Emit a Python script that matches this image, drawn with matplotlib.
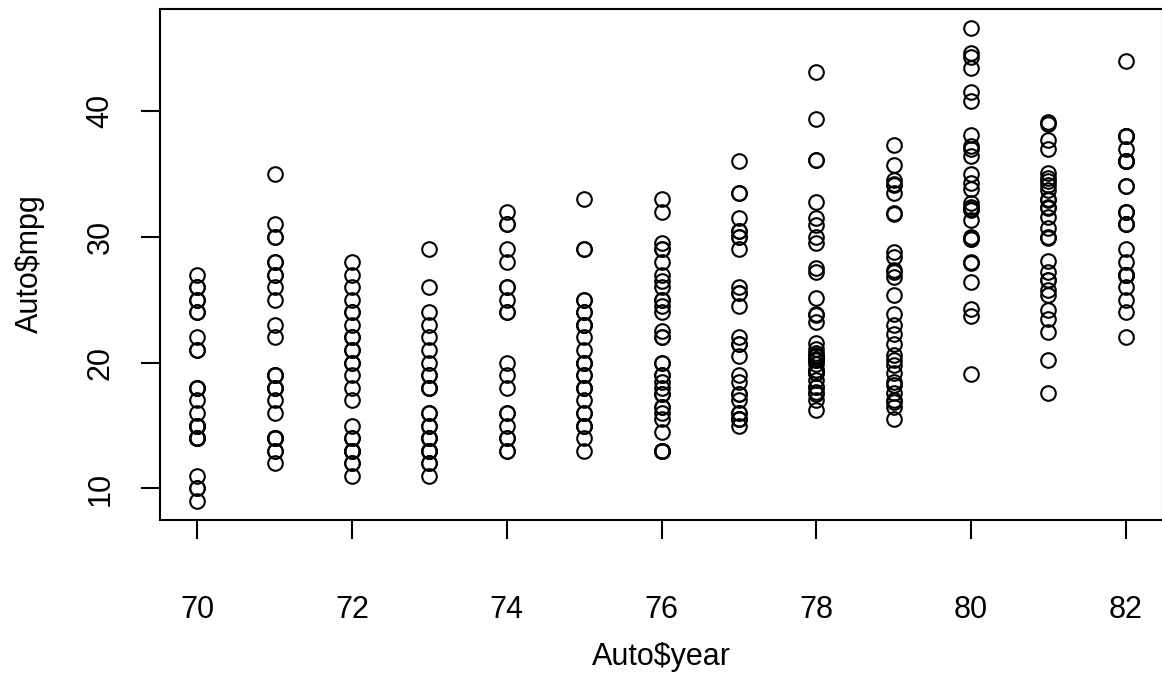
import numpy as np
import matplotlib
matplotlib.use("Agg")
import matplotlib.pyplot as plt

plt.rcParams['font.family'] = ['Liberation Sans', 'DejaVu Sans']

# mpg values for each model year
mpg_70 = [18, 15, 18, 16, 17, 15, 14, 14, 14, 15, 15, 14, 15, 14, 24, 22, 18, 21,
          27, 26, 25, 24, 25, 26, 21, 10, 10, 11, 9]
mpg_71 = [27, 28, 25, 19, 16, 17, 19, 18, 14, 14, 14, 14, 12, 13, 13, 18, 22, 19,
          18, 23, 28, 30, 30, 31, 35, 27, 26]
mpg_72 = [28, 27, 26, 25, 24, 23, 22, 21, 20, 19, 18, 17, 15, 14, 13, 12, 11,
          13, 14, 13, 12, 13, 22, 21, 24, 20]
mpg_73 = [29, 26, 24, 23, 22, 21, 20, 19, 18, 16, 15, 14, 13, 12, 11,
          13, 14, 13, 12, 18, 19, 15, 16, 13, 14, 18]
mpg_74 = [32, 31, 29, 28, 26, 25, 24, 20, 19, 18, 16, 15, 14, 13,
          31, 26, 24, 16, 14, 13]
mpg_75 = [33, 29, 25, 24, 23, 22, 21, 20, 19, 18, 17, 16, 15, 14, 13,
          29, 23, 25, 24, 18, 20, 15, 16, 19, 15, 23, 20, 18]
mpg_76 = [33, 32, 29.5, 29, 29, 28, 27, 26.5, 26, 25, 25, 24.5, 24, 22.5, 22, 22,
          20, 20, 19, 19, 18.5, 18, 17.5, 17.5, 16.5, 16.5, 16, 15.5, 14.5,
          13, 13, 13, 13, 13]
mpg_77 = [31.5, 30, 36, 25.5, 33.5, 17.5, 17, 15.5, 15, 17.5, 20.5, 19, 18.5, 16,
          15.5, 15.5, 16, 29, 24.5, 26, 25.5, 30.5, 33.5, 30, 30.5, 22, 21.5, 21.5]
mpg_78 = [43.1, 36.1, 32.8, 39.4, 36.1, 19.9, 19.4, 20.2, 19.2, 20.5, 20.2, 25.1,
          20.5, 19.4, 20.6, 20.8, 18.6, 18.1, 19.2, 17.7, 18.1, 17.5, 30.0, 27.5,
          27.2, 30.9, 21.1, 23.2, 23.8, 23.9, 20.3, 17.0, 21.6, 16.2, 31.5, 29.5]
mpg_79 = [21.5, 19.8, 22.3, 20.2, 20.6, 17.0, 17.6, 16.5, 18.2, 16.9, 15.5, 19.2,
          18.5, 31.9, 34.1, 35.7, 27.4, 25.4, 23.0, 27.2, 23.9, 34.2, 34.5, 31.8,
          37.3, 28.4, 28.8, 26.8, 33.5]
mpg_80 = [41.5, 38.1, 32.1, 37.2, 28.0, 26.4, 24.3, 19.1, 34.3, 29.8, 31.3, 37.0,
          32.2, 46.6, 27.9, 40.8, 44.3, 43.4, 36.4, 30.0, 44.6, 33.8, 29.8, 32.7,
          23.7, 35.0, 32.4]
mpg_81 = [27.2, 26.6, 25.8, 23.5, 30.0, 39.1, 39.0, 35.1, 32.3, 37.0, 37.7, 34.1,
          34.7, 34.4, 29.9, 33.0, 33.7, 32.4, 32.9, 31.6, 28.1, 30.7, 25.4, 24.2,
          22.4, 26.6, 20.2, 17.6]
mpg_82 = [27, 27, 34, 31, 29, 27, 24, 36, 37, 31, 38, 36, 36, 36, 34, 38, 32, 38,
          25, 38, 26, 22, 32, 36, 27, 27, 44, 32, 28, 31]

years = [70, 71, 72, 73, 74, 75, 76, 77, 78, 79, 80, 81, 82]
mpg_lists = [mpg_70, mpg_71, mpg_72, mpg_73, mpg_74, mpg_75, mpg_76, mpg_77,
             mpg_78, mpg_79, mpg_80, mpg_81, mpg_82]

year = np.concatenate([[yr] * len(v) for yr, v in zip(years, mpg_lists)])
mpg = np.concatenate(mpg_lists)

W, H = 1162, 677
fig = plt.figure(figsize=(W / 100, H / 100), dpi=100)
fig.patch.set_facecolor('white')

# plot region in pixels (R style box, runs slightly past the right edge)
left, right, top, bottom = 160, 1163, 9, 520
ax = fig.add_axes([left / W, 1 - bottom / H, (right - left) / W, (bottom - top) / H])

ax.plot(year, mpg, 'o', ms=10.5, mfc='none', mec='black', mew=1.5)

# R pads the data range by 4% on each side
xr = year.max() - year.min()
yr_ = mpg.max() - mpg.min()
ax.set_xlim(year.min() - 0.04 * xr, year.max() + 0.04 * xr)
ax.set_ylim(mpg.min() - 0.04 * yr_, mpg.max() + 0.04 * yr_)

ax.set_xticks(np.arange(70, 83, 2))
ax.set_yticks([10, 20, 30, 40])
ax.tick_params(axis='both', direction='out', length=14, width=1.5, labelsize=22)
ax.tick_params(axis='x', pad=40)
ax.tick_params(axis='y', pad=18)
for lab in ax.get_yticklabels():
    lab.set_rotation(90)
    lab.set_va('center')

for s in ax.spines.values():
    s.set_linewidth(1.5)
    s.set_clip_on(False)

fig.text(661 / W, 1 - 665 / H, 'Auto$year', ha='center', va='baseline', fontsize=22)
fig.text(30 / W, 1 - 264 / H, 'Auto$mpg', ha='center', va='center', fontsize=22,
         rotation=90)

fig.savefig('out.png', dpi=100)
